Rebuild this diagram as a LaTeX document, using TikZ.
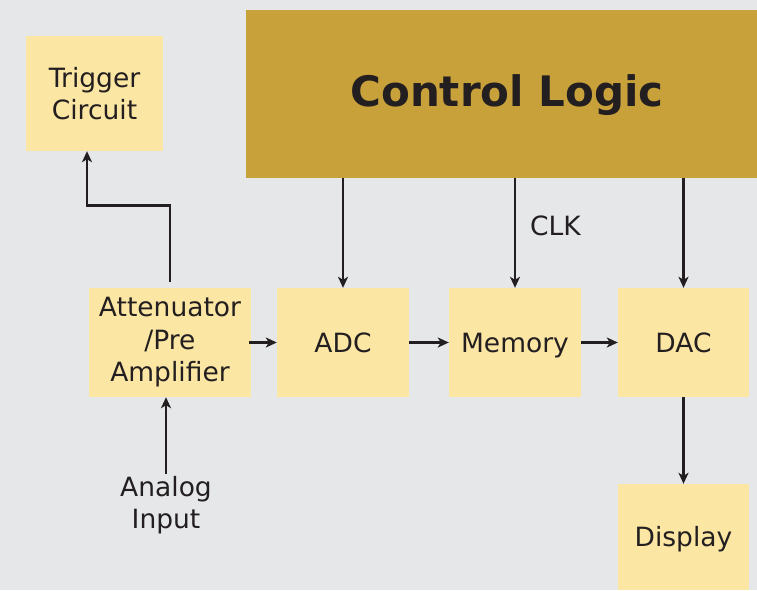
\documentclass[tikz,border=0pt]{standalone}
\usepackage{fontspec}
\setmainfont{DejaVu Sans}
\usetikzlibrary{arrows.meta}
\definecolor{bg}{HTML}{E6E7E9}
\definecolor{boxc}{HTML}{FCE6A4}
\definecolor{ctrlc}{HTML}{C9A13B}
\definecolor{ink}{HTML}{231F20}
\begin{document}
\begin{tikzpicture}[x=1pt,y=-1pt,
  blk/.style={fill=boxc,draw=none,inner sep=0pt,align=center,text=ink,
    font=\fontsize{26.5}{32.5}\selectfont},
  single/.style={text height=19pt,text depth=0pt},
  lbl/.style={inner sep=0pt,align=center,text=ink,font=\fontsize{26.5}{31.5}\selectfont},
  conn/.style={draw=ink,line width=2.6pt,-{Stealth[length=11pt,width=10pt,inset=3pt]}}]
\fill[bg] (0,0) rectangle (757,590);
\useasboundingbox (0,0) rectangle (757,590);
\node[fill=ctrlc,inner sep=0pt,minimum width=511pt,minimum height=168pt,text=ink,
  text height=31pt,text depth=6pt,
  font=\fontsize{42}{48}\selectfont\bfseries] (ctrl) at (501.5,94) {\hspace*{11pt}Control Logic};
\node[blk,minimum width=137pt,minimum height=115pt] (trig) at (94.5,93.5) {Trigger\\Circuit};
\node[blk,minimum width=162pt,minimum height=109pt] (att) at (170,342.5) {Attenuator\\/Pre\\Amplifier};
\node[blk,single,minimum width=132pt,minimum height=109pt] (adc) at (343,342.5) {ADC};
\node[blk,single,minimum width=132pt,minimum height=109pt] (mem) at (515,342.5) {Memory};
\node[blk,single,minimum width=131pt,minimum height=109pt] (dac) at (683.5,342.5) {DAC};
\node[blk,single,minimum width=131pt,minimum height=106pt] (disp) at (683.5,537) {Display};
\node[lbl] (ain) at (166,505) {Analog\\Input};
\node[lbl,single,anchor=west] (clk) at (530,226) {CLK};
\draw[conn] ([yshift=6pt]att.north) |- ([xshift=-7.5pt,yshift=-54pt]trig.south) -- ([xshift=-7.5pt]trig.south);
\draw[conn] (ctrl.south -| adc.north) -- (adc.north);
\draw[conn] (ctrl.south -| mem.north) -- (mem.north);
\draw[conn] (ctrl.south -| dac.north) -- (dac.north);
\draw[conn] ([xshift=-2pt]att.east) -- (adc.west);
\draw[conn] (adc.east) -- (mem.west);
\draw[conn] (mem.east) -- (dac.west);
\draw[conn] (dac.south) -- (disp.north);
\draw[conn] ([yshift=2pt]ain.north) -- (ain.north |- att.south);
\end{tikzpicture}
\end{document}
